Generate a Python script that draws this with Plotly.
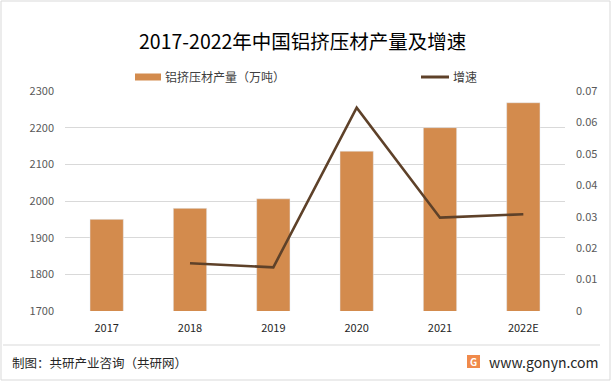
import plotly.graph_objects as go

years = ["2017", "2018", "2019", "2020", "2021", "2022E"]
production = [1950, 1980, 2006, 2136, 2200, 2268]
growth_years = ["2018", "2019", "2020", "2021", "2022E"]
growth = [0.0152, 0.0139, 0.0647, 0.0297, 0.0308]

left_ticks = [1700, 1800, 1900, 2000, 2100, 2200, 2300]
right_ticks = [0, 0.01, 0.02, 0.03, 0.04, 0.05, 0.06, 0.07]

BAR = "#D38B4D"
LINE = "#5E4129"
FONT = "Noto Sans CJK SC"
W, H = 612, 382
L, R, T, B = 65, 565, 91, 311

fig = go.Figure()
fig.add_trace(go.Bar(x=years, y=production, marker_color=BAR, name="铝挤压材产量（万吨）",
                     yaxis="y", hoverinfo="skip"))
fig.add_trace(go.Scatter(x=growth_years, y=growth, mode="lines", name="增速",
                         line=dict(color=LINE, width=2.6), yaxis="y2", hoverinfo="skip"))

def px(x):
    return (x - L) / (R - L)

def py(y):
    return (B - y) / (B - T)

shapes = [
    # outer border
    dict(type="rect", xref="paper", yref="paper", x0=px(1), x1=px(610), y0=py(380), y1=py(1),
         line=dict(color="#D9D9D9", width=1), fillcolor="rgba(0,0,0,0)", layer="below"),
    # separator
    dict(type="line", xref="paper", yref="paper", x0=px(3), x1=px(600), y0=py(345), y1=py(345),
         line=dict(color="#D9D9D9", width=1)),
    # legend swatches
    dict(type="rect", xref="paper", yref="paper", x0=px(135), x1=px(161), y0=py(80.5), y1=py(73.5),
         line=dict(width=0), fillcolor=BAR),
    dict(type="line", xref="paper", yref="paper", x0=px(421), x1=px(449), y0=py(77), y1=py(77),
         line=dict(color=LINE, width=3)),
    # logo
    dict(type="rect", xref="paper", yref="paper", x0=px(467), x1=px(480), y0=py(368), y1=py(355),
         line=dict(width=0), fillcolor="#F08A4B"),
]

annotations = [
    dict(text="2017-2022年中国铝挤压材产量及增速", xref="paper", yref="paper", x=px(302), y=py(41),
         showarrow=False, font=dict(family=FONT, size=19.5, color="#000000"), xanchor="center", yanchor="middle"),
    dict(text="铝挤压材产量（万吨）", xref="paper", yref="paper", x=px(163), y=py(77),
         showarrow=False, font=dict(family=FONT, size=12, color="#404040"), xanchor="left", yanchor="middle"),
    dict(text="增速", xref="paper", yref="paper", x=px(451), y=py(77),
         showarrow=False, font=dict(family=FONT, size=12, color="#404040"), xanchor="left", yanchor="middle"),
    dict(text="制图：共研产业咨询（共研网）", xref="paper", yref="paper", x=px(10), y=py(362),
         showarrow=False, font=dict(family=FONT, size=12.5, color="#262626"), xanchor="left", yanchor="middle"),
    dict(text="www.gonyn.com", xref="paper", yref="paper", x=px(487), y=py(362),
         showarrow=False, font=dict(family=FONT, size=14, color="#262626"), xanchor="left", yanchor="middle"),
    dict(text="<b>G</b>", xref="paper", yref="paper", x=px(473.5), y=py(361.5),
         showarrow=False, font=dict(family=FONT, size=10, color="#FFFFFF"), xanchor="center", yanchor="middle"),
]

fig.update_layout(
    width=W, height=H,
    margin=dict(l=L, r=W - R, t=T, b=H - B, pad=0),
    paper_bgcolor="#FFFFFF", plot_bgcolor="#FFFFFF",
    showlegend=False,
    hovermode=False,
    bargap=0.6,
    font=dict(family=FONT, size=11, color="#595959"),
    xaxis=dict(type="category", categoryorder="array", categoryarray=years,
               showgrid=False, showline=False, ticks="", zeroline=False, ticklabelstandoff=9,
               tickfont=dict(family=FONT, size=11, color="#262626")),
    yaxis=dict(range=[1700, 2300], tickvals=left_ticks, ticktext=[str(v) for v in left_ticks],
               showgrid=True, gridcolor="#D9D9D9", gridwidth=1, zeroline=False, showline=False,
               ticks="", ticklabelstandoff=10, tickfont=dict(family=FONT, size=11, color="#595959")),
    yaxis2=dict(range=[0, 0.07], tickvals=right_ticks, ticktext=[("0" if v == 0 else f"{v:.2f}") for v in right_ticks],
                overlaying="y", side="right", showgrid=False, zeroline=False, showline=False,
                ticks="", ticklabelstandoff=10, tickfont=dict(family=FONT, size=11, color="#595959")),
    shapes=shapes,
    annotations=annotations,
)

fig.write_html("out.html", config={"displayModeBar": False, "staticPlot": True},
               post_script="document.body.style.margin='0';document.body.style.overflow='hidden';")
